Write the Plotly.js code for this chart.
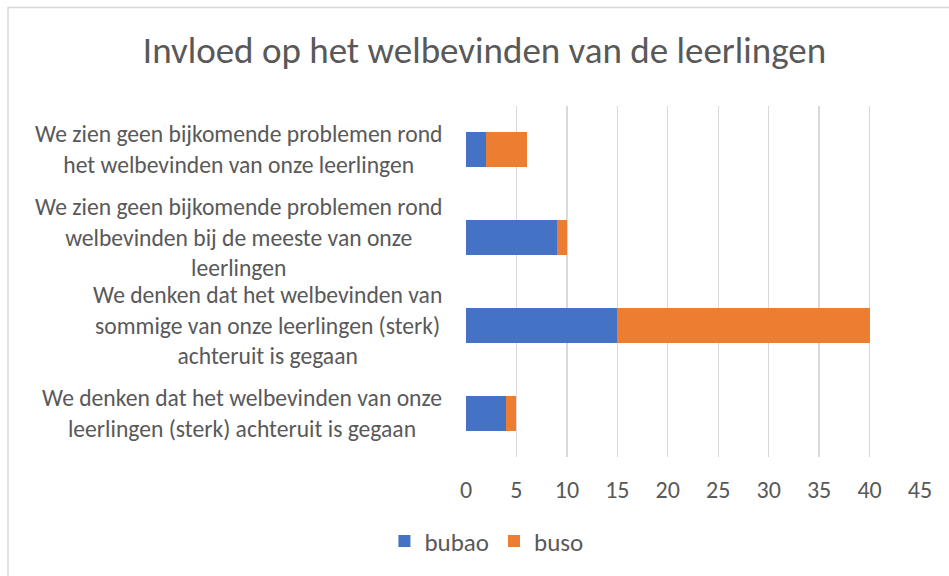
<!DOCTYPE html>
<html>
<head>
<meta charset="utf-8">
<script src="https://cdn.plot.ly/plotly-3.0.1.min.js"></script>
<style>
html,body{margin:0;padding:0;background:#fff;}
#chart{width:949px;height:576px;}
</style>
</head>
<body>
<div id="chart"></div>
<script>
const categories = [
  "We zien geen bijkomende problemen rond<br>het welbevinden van onze leerlingen",
  "We zien geen bijkomende problemen rond<br>welbevinden bij de meeste van onze<br>leerlingen",
  "We denken dat het welbevinden van<br>sommige van onze leerlingen (sterk)<br>achteruit is gegaan",
  "We denken dat het welbevinden van onze<br>leerlingen (sterk) achteruit is gegaan"
];
const bubao = [2, 9, 15, 4];
const buso = [4, 1, 25, 1];
const xTicks = [0, 5, 10, 15, 20, 25, 30, 35, 40, 45];
const titleText = "Invloed op het welbevinden van de leerlingen";

const FONT = "Carlito, Lato, 'Liberation Sans', sans-serif";
const TXT = "#595959";

const traces = [
  {type: "bar", orientation: "h", name: "bubao", y: categories, x: bubao,
   marker: {color: "#4472C4"}, hoverinfo: "x+name"},
  {type: "bar", orientation: "h", name: "buso", y: categories, x: buso,
   marker: {color: "#ED7D31"}, hoverinfo: "x+name"}
];

const annotations = categories.map(c => ({
  xref: "paper", yref: "y", x: 0, y: c, xanchor: "right", yanchor: "middle",
  xshift: -22, align: "center", text: c, showarrow: false,
  font: {family: FONT, size: 23.6, color: TXT}
}));

const layout = {
  width: 949, height: 576,
  margin: {l: 466, r: 29, t: 106, b: 117},
  paper_bgcolor: "#fff", plot_bgcolor: "#fff",
  barmode: "stack", bargap: 0.6,
  font: {family: FONT, color: TXT},
  title: {text: titleText, font: {family: FONT, size: 37, color: TXT},
          x: 0.5105, xanchor: "center", xref: "container", y: 0.913, yanchor: "middle"},
  xaxis: {range: [0, 45], tickvals: xTicks, ticktext: xTicks.map(String),
          showgrid: true, gridcolor: "#d9d9d9", gridwidth: 1.3, zeroline: false,
          showline: false, ticks: "", ticklabelstandoff: 16,
          tickfont: {family: FONT, size: 24, color: TXT}, fixedrange: true},
  yaxis: {autorange: "reversed", showticklabels: false, showgrid: false,
          zeroline: false, showline: false, ticks: "", fixedrange: true},
  legend: {orientation: "h", x: 0.045, xanchor: "center", y: -0.24, yanchor: "middle",
           font: {family: FONT, size: 25, color: TXT}, itemwidth: 30,
           traceorder: "normal"},
  annotations: annotations,
  shapes: [{type: "rect", xref: "paper", yref: "paper",
            x0: -1.0088, x1: 2, y0: -0.5, y1: 1.2805,
            line: {color: "#d9d9d9", width: 1.5}, fillcolor: "rgba(0,0,0,0)", layer: "below"}]
};

Plotly.newPlot("chart", traces, layout, {displayModeBar: false, staticPlot: true});
</script>
</body>
</html>
